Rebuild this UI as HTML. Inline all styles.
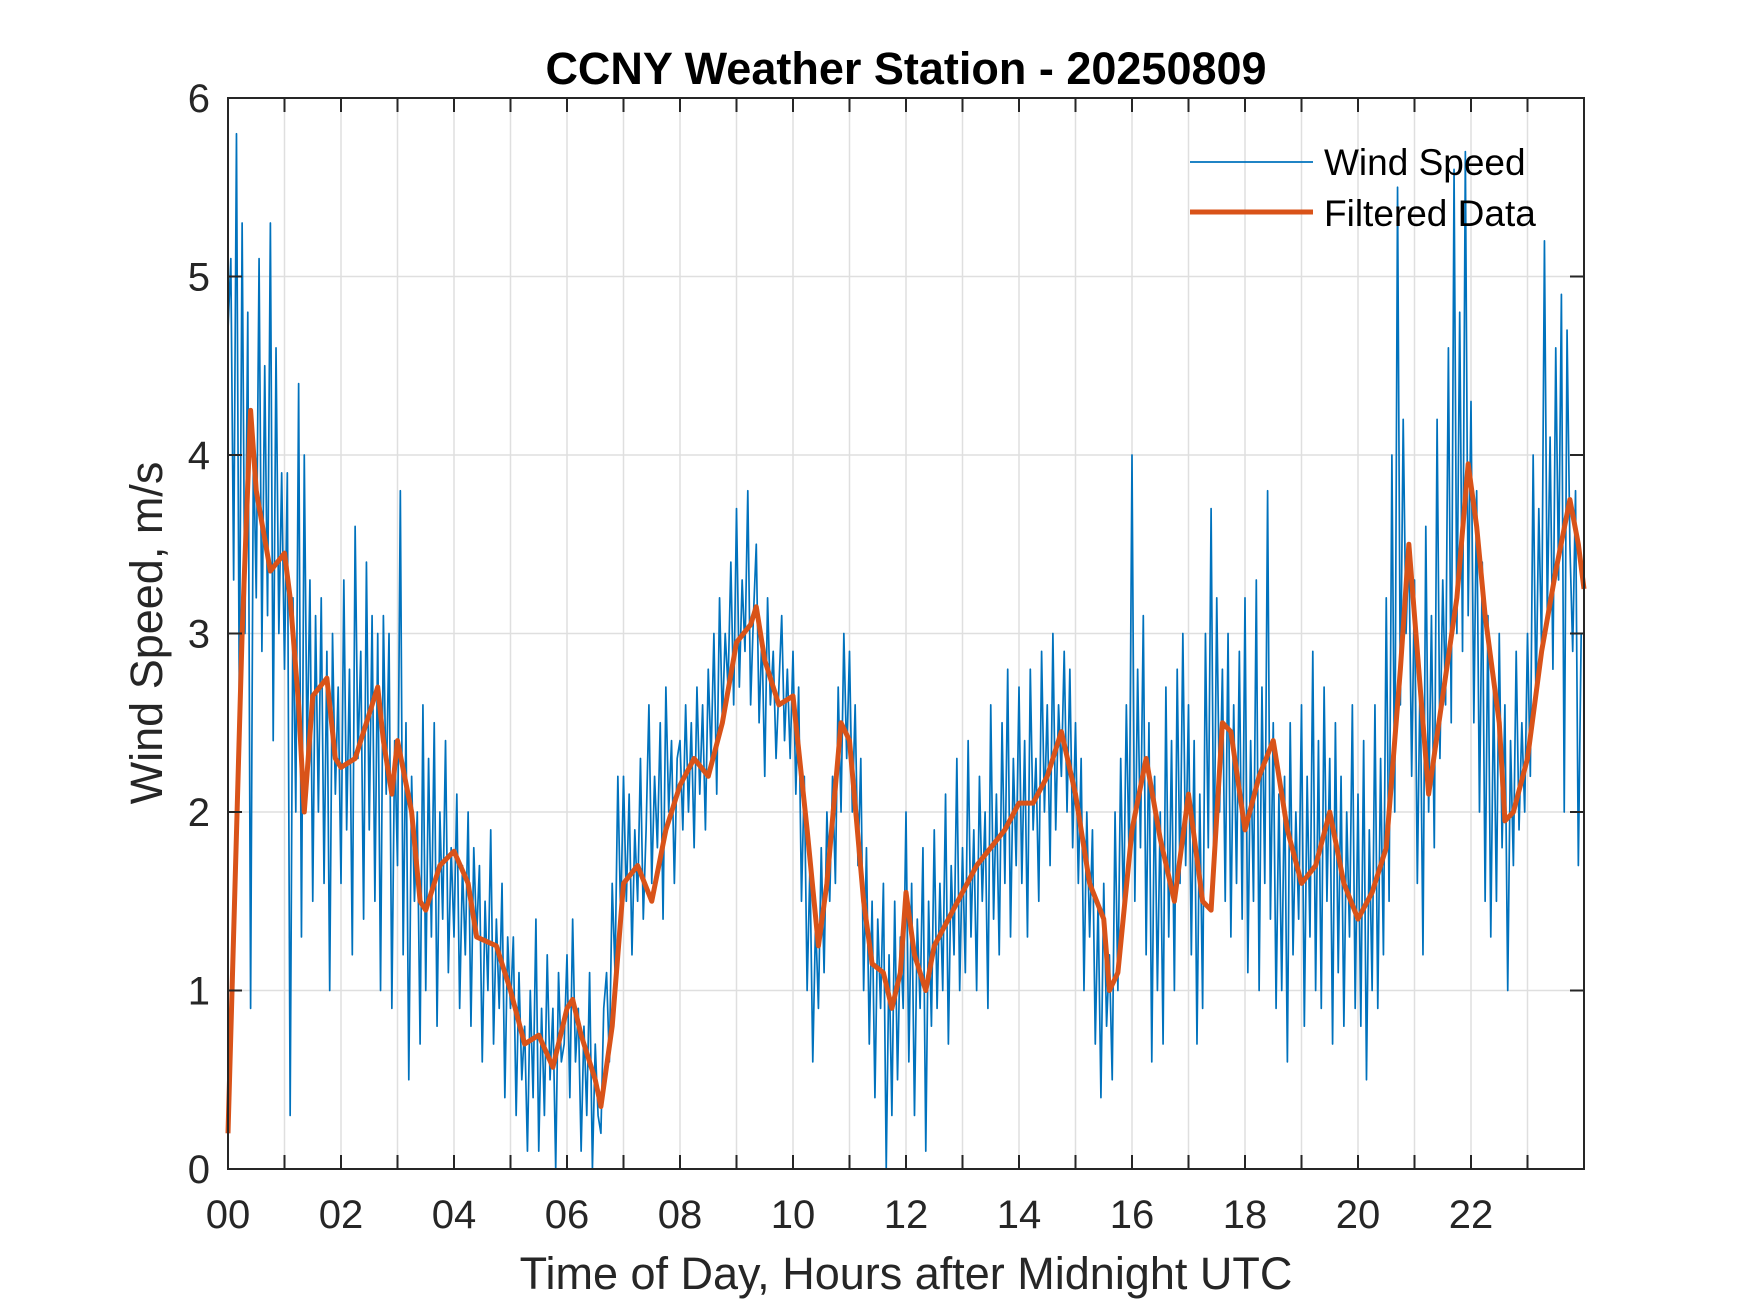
<!DOCTYPE html>
<html><head><meta charset="utf-8"><style>
html,body{margin:0;padding:0;background:#fff;}
svg{display:block;font-family:"Liberation Sans",Arial,sans-serif;}
</style></head><body>
<svg id="chart" width="1750" height="1313" viewBox="0 0 1750 1313" xmlns="http://www.w3.org/2000/svg">
<rect width="1750" height="1313" fill="#fff"/>
<g id="grid"></g>
<g id="series"></g>
<g id="axes"></g>
<text x="906" y="84" font-size="45" font-weight="bold" text-anchor="middle" fill="#000">CCNY Weather Station - 20250809</text>
<text x="906" y="1289" font-size="45" text-anchor="middle" fill="#262626">Time of Day, Hours after Midnight UTC</text>
<text transform="translate(162,633) rotate(-90)" font-size="45" text-anchor="middle" fill="#262626">Wind Speed, m/s</text>
<g>
<line x1="1190" y1="162" x2="1313" y2="162" stroke="#0072BD" stroke-width="1.8"/>
<text x="1324" y="175" font-size="37" fill="#000">Wind Speed</text>
<line x1="1190" y1="212" x2="1313" y2="212" stroke="#D95319" stroke-width="5"/>
<text x="1324" y="226" font-size="37" fill="#000">Filtered Data</text>
</g>
</svg>
<script>
const rawStep = 0.05;
const rawSpeed = [
4.7,5.1,3.3,5.8,2.6,5.3,3.0,4.8,0.9,4.1,3.2,5.1,2.9,4.5,3.1,5.3,2.4,4.6,3.0,3.9,
2.8,3.9,0.3,3.2,2.0,4.4,1.3,4.0,2.3,3.3,1.5,3.1,2.0,3.2,1.6,2.9,1.0,3.0,2.1,2.7,
1.6,3.3,1.9,2.8,1.2,3.6,2.3,2.9,1.4,3.4,1.9,3.1,1.5,3.0,1.0,3.1,2.1,3.0,0.9,2.4,
1.7,3.8,1.2,2.5,0.5,2.2,1.5,2.0,0.7,2.6,1.0,2.3,1.3,2.5,0.8,2.0,1.4,2.4,1.1,1.8,
1.3,2.1,0.9,1.7,1.2,2.0,0.8,1.8,1.3,1.7,0.6,1.5,1.0,1.9,0.7,1.4,0.9,1.6,0.4,1.3,
0.9,1.3,0.3,1.1,0.5,0.8,0.1,1.0,0.4,1.4,0.1,0.9,0.3,1.2,0.5,0.9,0.0,1.1,0.6,0.7,
1.2,0.4,1.4,0.6,0.9,0.1,0.8,0.3,1.1,0.0,0.7,0.3,0.2,0.9,1.1,0.6,1.6,1.1,2.2,1.4,
2.2,1.5,2.1,1.2,1.9,1.5,2.3,1.4,1.9,2.6,1.6,2.2,1.8,2.5,1.4,2.7,2.0,2.4,1.6,2.3,
2.4,1.9,2.6,2.0,2.5,1.8,2.7,2.1,2.6,1.9,2.8,2.3,3.0,2.1,3.2,2.5,3.0,2.7,3.4,2.6,
3.7,2.7,3.3,2.9,3.8,2.6,3.1,3.5,2.5,3.0,2.2,3.2,2.6,2.9,2.3,2.7,3.1,2.4,2.8,2.3,
2.9,2.1,2.7,1.5,2.2,1.0,1.7,0.6,1.4,0.9,1.8,1.1,2.0,1.5,2.2,1.6,2.7,2.0,3.0,2.3,
2.9,2.0,2.6,1.7,2.3,1.0,1.8,0.7,1.5,0.4,1.4,0.9,1.6,0.0,1.2,0.3,1.5,0.5,1.3,0.9,
2.0,0.6,1.6,0.3,1.4,0.9,1.8,0.1,1.5,0.8,1.9,0.9,1.6,1.0,2.1,0.7,1.7,1.2,2.3,1.0,
1.8,1.1,2.4,1.3,1.9,1.0,2.2,1.5,2.0,0.9,2.6,1.4,2.1,1.2,2.5,1.6,2.8,1.3,2.3,1.7,
2.7,1.6,2.4,1.3,2.8,1.9,2.3,1.5,2.9,2.0,2.6,1.7,3.0,1.9,2.6,2.2,2.9,2.0,2.8,1.8,
2.5,1.6,2.3,1.0,2.0,1.3,1.9,0.7,1.5,0.4,1.6,0.8,1.2,0.5,2.0,1.0,2.3,1.4,2.6,1.7,
4.0,1.5,2.8,1.8,3.1,1.2,2.5,0.6,2.2,1.0,2.0,0.7,2.7,1.3,2.4,1.0,2.8,1.6,3.0,1.7,
2.6,1.2,2.4,0.7,2.1,0.9,3.0,1.8,3.7,1.6,3.2,2.0,2.8,1.5,3.0,1.3,2.6,1.6,2.9,1.4,
3.2,1.1,2.4,1.5,3.3,1.0,2.7,1.6,3.8,1.4,2.5,0.9,2.1,1.0,2.2,0.6,2.5,1.2,2.0,1.4,
2.6,0.8,2.2,1.3,2.9,1.0,2.4,0.9,2.7,1.5,2.3,0.7,2.5,1.1,2.2,0.8,2.0,1.3,2.6,0.9,
2.1,0.8,2.4,0.5,1.9,1.0,2.6,0.9,2.3,1.2,3.2,1.5,4.0,2.0,5.5,2.6,4.2,3.0,3.5,2.2,
3.3,1.6,2.8,1.2,3.6,2.0,3.1,1.8,4.2,2.3,3.3,2.6,4.6,2.5,5.6,3.0,4.8,2.9,5.7,3.1,
4.3,2.5,3.8,2.0,3.4,1.5,3.1,1.3,2.7,1.5,3.0,1.8,2.6,1.0,2.4,1.7,2.9,1.9,2.5,2.0,
3.0,2.2,4.0,2.6,3.7,2.9,5.2,3.1,4.1,2.8,4.6,3.3,4.9,2.0,4.7,3.5,2.9,3.8,1.7,3.0
];
const filtHours = [0,0.25,0.4,0.5,0.75,1.0,1.1,1.25,1.35,1.5,1.75,1.9,2.0,2.25,2.5,2.65,2.75,2.9,3.0,3.25,3.4,3.5,3.75,4.0,4.25,4.4,4.75,5.0,5.25,5.5,5.75,6.0,6.1,6.25,6.5,6.6,6.8,7.0,7.25,7.5,7.75,8.0,8.25,8.5,8.75,9.0,9.25,9.35,9.5,9.75,10.0,10.25,10.45,10.6,10.85,11.0,11.25,11.4,11.6,11.75,11.9,12.0,12.15,12.35,12.5,12.75,13.0,13.25,13.5,13.75,14.0,14.25,14.5,14.75,15.0,15.25,15.5,15.6,15.75,16.0,16.25,16.5,16.75,17.0,17.25,17.4,17.6,17.75,18.0,18.25,18.5,18.75,19.0,19.25,19.5,19.75,20.0,20.25,20.5,20.75,20.9,21.0,21.25,21.5,21.75,21.95,22.1,22.25,22.5,22.6,22.75,23.0,23.25,23.5,23.75,23.9,24.0];
const filtSpeed = [0.2,3.0,4.25,3.8,3.35,3.45,3.2,2.6,2.0,2.65,2.75,2.3,2.25,2.3,2.55,2.7,2.4,2.1,2.4,2.0,1.5,1.45,1.7,1.78,1.6,1.3,1.25,1.0,0.7,0.75,0.57,0.9,0.95,0.75,0.5,0.35,0.8,1.6,1.7,1.5,1.9,2.15,2.3,2.2,2.5,2.95,3.05,3.15,2.85,2.6,2.65,1.9,1.25,1.6,2.5,2.4,1.5,1.15,1.1,0.9,1.1,1.55,1.2,1.0,1.25,1.4,1.55,1.7,1.8,1.9,2.05,2.05,2.2,2.45,2.1,1.6,1.4,1.0,1.1,1.9,2.3,1.85,1.5,2.1,1.5,1.45,2.5,2.45,1.9,2.2,2.4,1.9,1.6,1.7,2.0,1.6,1.4,1.55,1.8,2.8,3.5,3.1,2.1,2.65,3.2,3.95,3.6,3.1,2.5,1.95,2.0,2.3,2.9,3.35,3.75,3.5,3.25];
const xTickLabels = ["00","02","04","06","08","10","12","14","16","18","20","22"];
const yTickLabels = ["0","1","2","3","4","5","6"];

const NS = "http://www.w3.org/2000/svg";
const L = 228, R = 1584, T = 98, B = 1169;
const xS = h => L + (h / 24) * (R - L);
const yS = v => B - (v / 6) * (B - T);
function mk(tag, attrs, parent) {
  const e = document.createElementNS(NS, tag);
  for (const k in attrs) e.setAttribute(k, attrs[k]);
  parent.appendChild(e);
  return e;
}
const grid = document.getElementById('grid');
const axes = document.getElementById('axes');
const series = document.getElementById('series');

for (let h = 1; h < 24; h++) {
  const g = mk('line', {x1: xS(h), x2: xS(h), y1: T, y2: B, stroke: '#dfdfdf', 'stroke-width': 1.5}, grid);
  
  
}
for (let v = 1; v < 6; v++) {
  const g = mk('line', {x1: L, x2: R, y1: yS(v), y2: yS(v), stroke: '#dfdfdf', 'stroke-width': 1.5}, grid);
  
  
}

let rp = '';
rawSpeed.forEach((v, i) => { rp += (i ? 'L' : 'M') + xS(i * rawStep).toFixed(2) + ' ' + yS(v).toFixed(2); });
const raw = mk('path', {d: rp, fill: 'none', stroke: '#0072BD', 'stroke-width': 1.7, 'stroke-linejoin': 'round'}, series);



let fp = '';
filtSpeed.forEach((v, i) => { fp += (i ? 'L' : 'M') + xS(filtHours[i]).toFixed(2) + ' ' + yS(v).toFixed(2); });
const filt = mk('path', {d: fp, fill: 'none', stroke: '#D95319', 'stroke-width': 5, 'stroke-linejoin': 'round'}, series);



const box = mk('rect', {x: L, y: T, width: R - L, height: B - T, fill: 'none', stroke: '#262626', 'stroke-width': 2}, axes);



for (let h = 0; h <= 24; h++) {
  const x = xS(h);
  const t1 = mk('line', {x1: x, x2: x, y1: B, y2: B - 14, stroke: '#262626', 'stroke-width': 2}, axes);
  
  
  const t2 = mk('line', {x1: x, x2: x, y1: T, y2: T + 14, stroke: '#262626', 'stroke-width': 2}, axes);
  
  
}
xTickLabels.forEach((s, i) => {
  const t = mk('text', {x: xS(i * 2), y: 1228, 'font-size': 40, 'text-anchor': 'middle', fill: '#262626'}, axes);
  t.textContent = s;
  
  
});
yTickLabels.forEach((s, i) => {
  const y = yS(i);
  const a = mk('line', {x1: L, x2: L + 14, y1: y, y2: y, stroke: '#262626', 'stroke-width': 2}, axes);
  
  
  const b = mk('line', {x1: R, x2: R - 14, y1: y, y2: y, stroke: '#262626', 'stroke-width': 2}, axes);
  
  
  const t = mk('text', {x: 210, y: y + 14, 'font-size': 40, 'text-anchor': 'end', fill: '#262626'}, axes);
  t.textContent = s;
  
  
});
</script>
</body></html>
